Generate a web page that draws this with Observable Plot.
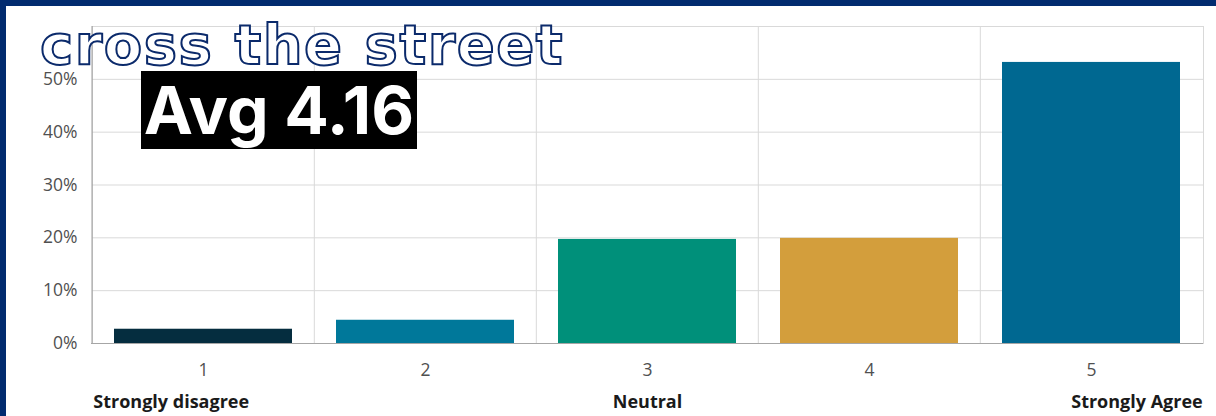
<!DOCTYPE html>
<html>
<head>
<meta charset="utf-8">
<script src="https://cdn.jsdelivr.net/npm/d3@7"></script>
<script src="https://cdn.jsdelivr.net/npm/@observablehq/plot@0.6"></script>
<style>
  html, body { margin: 0; padding: 0; background: #ffffff; }
  #wrap { position: relative; width: 1216px; height: 416px; overflow: hidden; background: #ffffff; }
  #chart { position: absolute; left: 0; top: 0; }
  .band-top { position: absolute; left: 0; top: 0; width: 1216px; height: 6px; background: #022b6f; }
  .band-left { position: absolute; left: 0; top: 0; width: 6px; height: 416px; background: #022b6f; }
  #title {
    position: absolute; left: 40px; top: 25px; white-space: nowrap;
    font-family: "DejaVu Sans", sans-serif; font-weight: 700; font-size: 56px; line-height: 40px; letter-spacing: 1.5px;
    color: #ffffff; -webkit-text-stroke: 2px #0b2a6b;
  }
  #avg {
    position: absolute; left: 141px; top: 71px; width: 276px; height: 78px;
    background: #000000; color: #ffffff; text-align: center;
    font-family: Inter, sans-serif; font-weight: 700; font-size: 66px; line-height: 78px; white-space: nowrap;
  }
</style>
</head>
<body>
<div id="wrap">
  <div id="chart"></div>
  <div class="band-top"></div>
  <div class="band-left"></div>
  <div id="title"></div>
  <div id="avg"></div>
</div>
<script>
const categories = ["1", "2", "3", "4", "5"];
const shares = [0.027, 0.044, 0.197, 0.199, 0.532];
const barColors = ["#052d3f", "#00789a", "#00907a", "#d39e3c", "#006891"];
const yTicks = [0, 0.1, 0.2, 0.3, 0.4, 0.5];
const gridValues = [0.1, 0.2, 0.3, 0.4, 0.5, 0.6];
const scaleLabels = ["Strongly disagree", "Neutral", "Strongly Agree"];
const scaleLabelCats = ["1", "3", "5"];
const titleText = "cross the street";
const avgText = "Avg 4.16";

const data = categories.map((c, i) => ({cat: c, share: shares[i]}));
const halfBand = (1216 - 91 - 13) / categories.length / 2;

const chart = Plot.plot({
  width: 1216,
  height: 416,
  marginLeft: 91,
  marginRight: 13,
  marginTop: 26,
  marginBottom: 73,
  style: {fontFamily: "'Open Sans', sans-serif", fontSize: "17.5px", color: "#505050", background: "transparent"},
  x: {domain: categories, padding: 0, label: null, tickSize: 0, tickPadding: 20},
  y: {domain: [0, 0.6], ticks: yTicks, tickFormat: d3.format(".0%"), label: null, tickSize: 0, tickPadding: 14},
  color: {domain: categories, range: barColors},
  marks: [
    Plot.ruleY(gridValues, {stroke: "#d9d9d9", strokeWidth: 1}),
    Plot.ruleX(categories.slice(1), {x: d => d, dx: -halfBand, stroke: "#d9d9d9", strokeWidth: 1}),
    Plot.frame({stroke: "#d9d9d9"}),
    Plot.barY(data, {x: "cat", y: "share", fill: "cat", insetLeft: 22, insetRight: 22}),
    Plot.ruleY([0], {stroke: "#a6a6a6"}),
    Plot.ruleX([categories[0]], {x: d => d, dx: -halfBand, stroke: "#a6a6a6"}),
    Plot.text([scaleLabels[0]], {x: [scaleLabelCats[0]], text: d => d, frameAnchor: "bottom", dy: 64, dx: -halfBand + 1, textAnchor: "start", fontWeight: 700, fill: "#1a1a1a", fontSize: 18}),
    Plot.text([scaleLabels[1]], {x: [scaleLabelCats[1]], text: d => d, frameAnchor: "bottom", dy: 64, textAnchor: "middle", fontWeight: 700, fill: "#1a1a1a", fontSize: 18}),
    Plot.text([scaleLabels[2]], {x: [scaleLabelCats[2]], text: d => d, frameAnchor: "bottom", dy: 64, dx: halfBand, textAnchor: "end", fontWeight: 700, fill: "#1a1a1a", fontSize: 18})
  ]
});
document.getElementById("chart").appendChild(chart);
document.getElementById("title").textContent = titleText;
document.getElementById("avg").textContent = avgText;
</script>
</body>
</html>
